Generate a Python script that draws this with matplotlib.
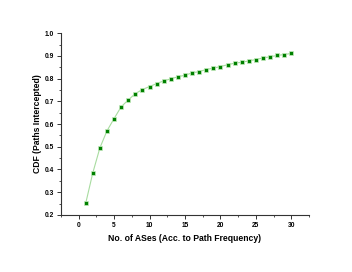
import matplotlib
matplotlib.use('Agg')
import matplotlib.pyplot as plt
from matplotlib.ticker import MultipleLocator

# data
num_ases = list(range(1, 31))
cdf = [0.251, 0.385, 0.495, 0.570, 0.624, 0.676, 0.706, 0.734, 0.752, 0.765,
       0.778, 0.790, 0.799, 0.808, 0.815, 0.825, 0.831, 0.840, 0.846, 0.853,
       0.861, 0.868, 0.872, 0.878, 0.884, 0.891, 0.896, 0.902, 0.906, 0.911]

plt.rcParams['font.family'] = ['Liberation Sans', 'DejaVu Sans']
plt.rcParams['font.weight'] = 'bold'

fig = plt.figure(figsize=(3.52, 2.72), dpi=100)
ax = fig.add_axes([0.173, 0.21, 0.705, 0.668])

ax.plot(num_ases, cdf, color='#a8dca0', linewidth=0.8, marker='s',
        markersize=3.0, markerfacecolor='#008000', markeredgecolor='#c8ecc0',
        markeredgewidth=0.5)

ax.set_xlim(-2.5, 32.5)
ax.set_ylim(0.2, 1.0)
ax.xaxis.set_major_locator(MultipleLocator(5))
ax.xaxis.set_minor_locator(MultipleLocator(2.5))
ax.yaxis.set_major_locator(MultipleLocator(0.1))
ax.yaxis.set_minor_locator(MultipleLocator(0.05))

for s in ['top', 'right']:
    ax.spines[s].set_visible(False)
for s in ['left', 'bottom']:
    ax.spines[s].set_color('#333333')
    ax.spines[s].set_linewidth(0.8)

ax.tick_params(which='major', direction='out', length=3, width=0.7,
               labelsize=4.8, colors='#333333', labelcolor='black', pad=2)
ax.tick_params(which='minor', direction='out', length=1.5, width=0.6, colors='#333333')

ax.set_xlabel('No. of ASes (Acc. to Path Frequency)', fontsize=6.2,
              fontweight='bold', labelpad=4)
ax.set_ylabel('CDF (Paths Intercepted)', fontsize=6.2, fontweight='bold',
              labelpad=2)

fig.savefig('out.png', dpi=100)
